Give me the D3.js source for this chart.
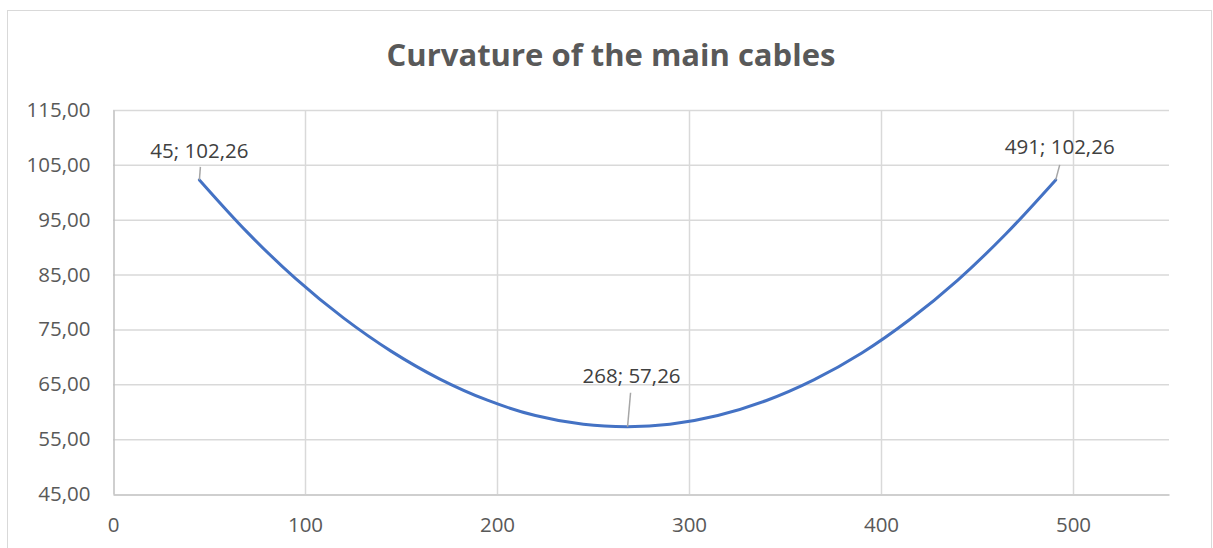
<!DOCTYPE html>
<html>
  <head>
    <title>Curvature of the main cables</title>
    <script src="https://d3js.org/d3.v7.min.js"></script>
    <style>
      body { margin: 0; background: #fff; }
      svg text { font-family: "Open Sans", "Liberation Sans", sans-serif; fill: #595959; }
      .tick text { font-size: 20.5px; }
      .data-label { font-size: 20.5px; fill: #404040; }
    </style>
  </head>
  <body>
    <div id="chart"></div>
    <script>
      // Points
      const xValues = [45, 70, 95, 120, 145, 170, 195, 220, 245, 268, 290, 315, 340, 365, 390, 415, 440, 465, 491];
      const yValues = [102.26, 92.7, 84.3, 77.1, 71.0, 66.0, 62.1, 59.3, 57.7, 57.26, 57.7, 59.3, 62.0, 65.8, 70.7, 76.8, 84.0, 92.4, 102.26];
      const xTicks = [0, 100, 200, 300, 400, 500];
      const yTicks = [45, 55, 65, 75, 85, 95, 105, 115];
      const labelled = [0, 9, 18];

      const W = 1213, H = 548;
      const margin = { top: 110, right: 44, bottom: 54, left: 113 };
      const width = W - margin.left - margin.right;
      const height = H - margin.top - margin.bottom;

      const root = d3.select("#chart").append("svg")
        .attr("width", W).attr("height", H);

      // outer chart frame
      root.append("rect")
        .attr("x", 7.5).attr("y", 10.5)
        .attr("width", 1204).attr("height", 560)
        .attr("fill", "none").attr("stroke", "#d9d9d9");

      root.append("text")
        .attr("x", 611).attr("y", 66)
        .attr("text-anchor", "middle")
        .style("font-size", "31px").style("font-weight", "bold")
        .text("Curvature of the main cables");

      const svg = root.append("g")
        .attr("transform", `translate(${margin.left}, ${margin.top})`);

      const x = d3.scaleLinear().domain([0, 550]).range([0, width]);
      const y = d3.scaleLinear().domain([45, 115]).range([height, 0]);
      const fmt = (v) => d3.format(".2f")(v).replace(".", ",");

      // gridlines
      svg.append("g").selectAll("line.h").data(yTicks.slice(1)).join("line")
        .attr("x1", 0).attr("x2", width)
        .attr("y1", (d) => y(d) + 0.5).attr("y2", (d) => y(d) + 0.5)
        .attr("stroke", "#d9d9d9").attr("stroke-width", 1.5);
      svg.append("g").selectAll("line.v").data(xTicks.slice(1)).join("line")
        .attr("x1", (d) => x(d) + 0.5).attr("x2", (d) => x(d) + 0.5)
        .attr("y1", 0).attr("y2", height)
        .attr("stroke", "#d9d9d9").attr("stroke-width", 1.5);

      // axes
      const xAxis = svg.append("g")
        .attr("transform", `translate(0, ${height + 0.5})`)
        .call(d3.axisBottom(x).tickValues(xTicks).tickSize(0).tickPadding(23).tickFormat(d3.format("d")));
      const yAxis = svg.append("g")
        .attr("transform", "translate(0.5, 0)")
        .call(d3.axisLeft(y).tickValues(yTicks).tickSize(0).tickPadding(23).tickFormat(fmt));
      xAxis.select(".domain").attr("stroke", "#bfbfbf").attr("stroke-width", 1.5);
      yAxis.select(".domain").attr("stroke", "#bfbfbf").attr("stroke-width", 1.5);

      const pts = xValues.map((v, i) => [v, yValues[i]]);

      svg.append("path")
        .datum(pts)
        .attr("fill", "none")
        .attr("stroke", "#4472c4")
        .attr("stroke-width", 3)
        .attr("stroke-linecap", "round")
        .attr("d", d3.line().x((d) => x(d[0])).y((d) => y(d[1])).curve(d3.curveCatmullRom));

      // data labels with leader lines
      const labelOffsets = { 0: [0, -22, 1, -13], 9: [4, -44, 3, -34], 18: [4, -26, 4, -15] };
      labelled.forEach((i) => {
        const px = x(xValues[i]), py = y(yValues[i]);
        const [tdx, tdy, ldx, ldy] = labelOffsets[i];
        svg.append("line")
          .attr("x1", px).attr("y1", py)
          .attr("x2", px + ldx).attr("y2", py + ldy)
          .attr("stroke", "#a6a6a6").attr("stroke-width", 1.5);
        svg.append("text")
          .attr("class", "data-label")
          .attr("x", px + tdx).attr("y", py + tdy)
          .attr("text-anchor", "middle")
          .text(`${xValues[i]}; ${fmt(yValues[i])}`);
      });
    </script>
  </body>
</html>
